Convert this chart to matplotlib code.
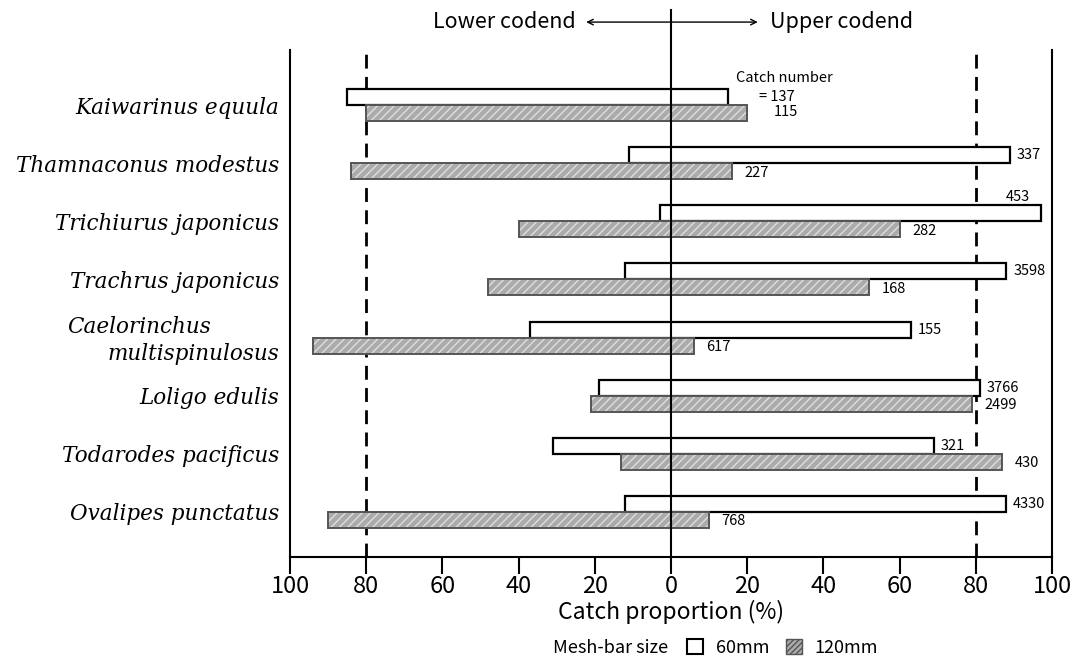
import numpy as np
import matplotlib.pyplot as plt
from matplotlib.patches import Patch

species = [
    "Kaiwarinus equula",
    "Thamnaconus modestus",
    "Trichiurus japonicus",
    "Trachrus japonicus",
    "Caelorinchus multispinulosus",
    "Loligo edulis",
    "Todarodes pacificus",
    "Ovalipes punctatus",
]
# proportion caught in lower codend (%), rest goes to upper codend
lower_60 = [85, 11, 3, 12, 37, 19, 31, 12]
lower_120 = [80, 84, 40, 48, 94, 21, 13, 90]
catch_60 = [137, 337, 453, 3598, 155, 3766, 321, 4330]
catch_120 = [115, 227, 282, 168, 617, 2499, 430, 768]

lower_60 = np.array(lower_60)
lower_120 = np.array(lower_120)
upper_60 = 100 - lower_60
upper_120 = 100 - lower_120

sans = ["Noto Sans CJK JP", "DejaVu Sans"]
serif_it = dict(family="DejaVu Serif", style="italic", fontsize=15.5)

fig = plt.figure(figsize=(10.75, 6.68), dpi=100)
ax = fig.add_axes([0.2698, 0.1662, 0.7088, 0.759])

n = len(species)
y = np.arange(n)[::-1].astype(float)
h = 0.275

# 60mm: white with black outline
ax.barh(y + h / 2, lower_60 + upper_60, left=-lower_60, height=h,
        color="white", edgecolor="black", linewidth=1.6, zorder=3)
# 120mm: grey textured
ax.barh(y - h / 2, lower_120 + upper_120, left=-lower_120, height=h,
        color="#ababab", edgecolor="#dedede", hatch="////", linewidth=0, zorder=3)
ax.barh(y - h / 2, lower_120 + upper_120, left=-lower_120, height=h,
        fill=False, edgecolor="#555555", linewidth=1.4, zorder=4)

# catch numbers
fs_num = 10.5
for i in range(n):
    if i == 0:
        ax.annotate("Catch number", (upper_60[i], y[i] + h / 2), xytext=(6, 14),
                    textcoords="offset points", fontsize=fs_num, family=sans,
                    va="center", ha="left")
        ax.annotate("= %d" % catch_60[i], (upper_60[i], y[i] + h / 2), xytext=(22, 0),
                    textcoords="offset points", fontsize=fs_num, family=sans, va="center")
        ax.annotate("%d" % catch_120[i], (upper_120[i], y[i] - h / 2), xytext=(19, 1),
                    textcoords="offset points", fontsize=fs_num, family=sans, va="center")
        continue
    if i == 2:
        ax.annotate("%d" % catch_60[i], (upper_60[i], y[i] + h / 2), xytext=(-8, 7),
                    textcoords="offset points", fontsize=fs_num, family=sans,
                    va="bottom", ha="right")
    else:
        ax.annotate("%d" % catch_60[i], (upper_60[i], y[i] + h / 2), xytext=(5, 0),
                    textcoords="offset points", fontsize=fs_num, family=sans, va="center")
    ax.annotate("%d" % catch_120[i], (upper_120[i], y[i] - h / 2), xytext=(9, -1),
                textcoords="offset points", fontsize=fs_num, family=sans, va="center")

# reference lines
ax.axvline(0, ymin=0, ymax=1.079, color="black", lw=1.5, clip_on=False, zorder=5)
for xv in (-80, 80):
    ax.axvline(xv, color="black", lw=2, ls=(0, (5, 3)), zorder=2)

ax.set_xlim(-100, 100)
ax.set_ylim(-0.775, 7.947)
ticks = np.arange(-100, 101, 20)
ax.set_xticks(ticks)
ax.set_xticklabels([str(abs(t)) for t in ticks], fontsize=17, family=sans)
ax.tick_params(axis="x", direction="out", length=12, width=1.5, pad=1)
ax.set_yticks(y)
labels = [s if " multi" not in s else "" for s in species]
ax.set_yticklabels(labels, **serif_it)
ax.tick_params(axis="y", length=0, pad=8)
# two-line species label: first line left, second line right aligned
k = [i for i, s in enumerate(species) if " multi" in s][0]
first, second = species[k].split(" ", 1)
ytr = ax.get_yaxis_transform()
ax.annotate(first, (0, y[k]), xycoords=ytr, xytext=(-223, 11),
            textcoords="offset pixels", ha="left", va="center", **serif_it)
ax.annotate(second, (0, y[k]), xycoords=ytr, xytext=(-11, -16),
            textcoords="offset pixels", ha="right", va="center", **serif_it)

ax.spines["top"].set_visible(False)
for s in ("left", "right", "bottom"):
    ax.spines[s].set_linewidth(1.5)
ax.set_xlabel("Catch proportion (%)", fontsize=16.5, family=sans, labelpad=1)

# direction header
ax.annotate("", xy=(-23, 1.055), xytext=(23.5, 1.055),
            xycoords=("data", "axes fraction"),
            arrowprops=dict(arrowstyle="<->", lw=1.0, color="black"),
            annotation_clip=False)
ax.text(-25, 1.055, "Lower codend", transform=ax.get_xaxis_transform(),
        ha="right", va="center", fontsize=15.5, family=sans)
ax.text(26, 1.055, "Upper codend", transform=ax.get_xaxis_transform(),
        ha="left", va="center", fontsize=15.5, family=sans)

# legend
fig.text(0.568, 0.03, "Mesh-bar size", ha="center", va="center", fontsize=13, family=sans)
handles = [Patch(facecolor="white", edgecolor="black", linewidth=1.5),
           Patch(facecolor="#ababab", edgecolor="#555555", hatch="//////", linewidth=1)]
fig.legend(handles, ["60mm", "120mm"], ncol=2, frameon=False,
           loc="center", bbox_to_anchor=(0.728, 0.03),
           handlelength=0.9, handleheight=0.9, handletextpad=0.7, columnspacing=0.9,
           prop=dict(family=sans, size=13))

fig.savefig("out.png", dpi=100)
